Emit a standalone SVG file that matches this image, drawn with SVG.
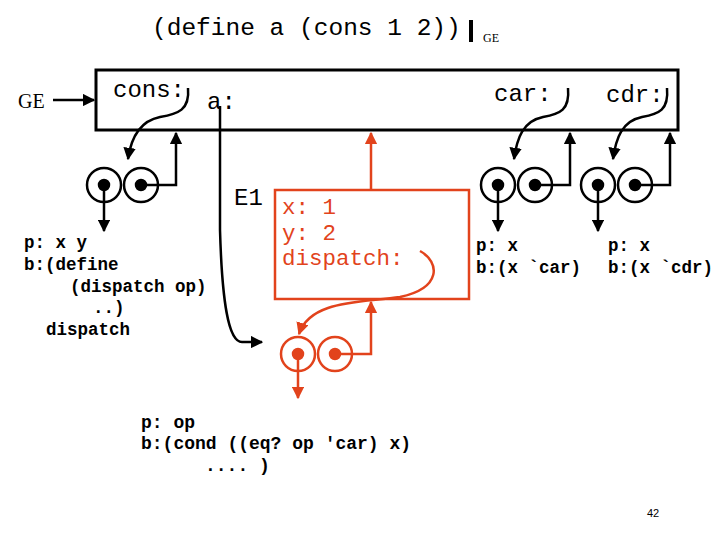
<svg xmlns="http://www.w3.org/2000/svg" width="720" height="540" viewBox="0 0 720 540">
<style>
.mono{font-family:"Liberation Mono","Courier New",monospace}
.big{font-size:24px}
.rbig{font-size:22.5px}
.code{font-size:17.5px;font-weight:bold}
.blk{fill:none;stroke:#000;stroke-width:2.5}
.red{fill:none;stroke:#E2431C;stroke-width:2.5}
.rt{fill:#E2431C}
</style>
<defs>
<marker id="ab" viewBox="0 0 10 10" refX="9" refY="5" markerWidth="5" markerHeight="5" orient="auto" markerUnits="strokeWidth"><path d="M0,0 L10,5 L0,10 z" fill="#000"/></marker>
<marker id="ar" viewBox="0 0 10 10" refX="9" refY="5" markerWidth="5" markerHeight="5" orient="auto" markerUnits="strokeWidth"><path d="M0,0 L10,5 L0,10 z" fill="#E2431C"/></marker>
</defs>
<text class="mono" font-size="24.5" x="152" y="35">(define a (cons 1 2))</text>
<line x1="471" y1="20" x2="471" y2="42" stroke="#000" stroke-width="4"/>
<text x="483" y="42" font-family="Liberation Serif,serif" font-size="12">GE</text>

<g id="ge-label">
<text x="18" y="108" font-family="Liberation Serif,serif" font-size="20">GE</text>
</g>
<g id="global-env">
<rect x="96" y="70" width="582" height="60" fill="none" stroke="#000" stroke-width="3"/>
<text class="mono big" x="113" y="97">cons:</text>
<text class="mono big" x="207" y="109">a:</text>
<text class="mono big" x="494" y="101">car:</text>
<text class="mono big" x="606" y="102">cdr:</text>
</g>
<g id="pair-cons" class="blk">
<circle cx="104" cy="185" r="17"/><circle cx="141" cy="185" r="17"/>
<circle cx="104" cy="185" r="5" fill="#000"/><circle cx="141" cy="185" r="5" fill="#000"/>
</g>
<g id="pair-car" class="blk">
<circle cx="498" cy="185" r="17"/><circle cx="535" cy="185" r="17"/>
<circle cx="498" cy="185" r="5" fill="#000"/><circle cx="535" cy="185" r="5" fill="#000"/>
</g>
<g id="pair-cdr" class="blk">
<circle cx="598" cy="185" r="17"/><circle cx="635" cy="185" r="17"/>
<circle cx="598" cy="185" r="5" fill="#000"/><circle cx="635" cy="185" r="5" fill="#000"/>
</g>
<g id="text-cons" class="mono code">
<text x="24" y="248">p: x y</text>
<text x="24" y="270">b:(define</text>
<text x="70" y="292">(dispatch op)</text>
<text x="93" y="313">..)</text>
<text x="46" y="335">dispatch</text>
</g>
<g id="text-car" class="mono code">
<text x="476" y="251">p: x</text>
<text x="476" y="273">b:(x `car)</text>
</g>
<g id="text-cdr" class="mono code">
<text x="608" y="251">p: x</text>
<text x="608" y="273">b:(x `cdr)</text>
</g>
<g id="e1">
<text class="mono big" x="234" y="205">E1</text>
<rect x="275" y="190" width="194" height="109" class="red"/>
<text class="mono rbig rt" x="282" y="214">x: 1</text>
<text class="mono rbig rt" x="282" y="240">y: 2</text>
<text class="mono rbig rt" x="282" y="265">dispatch:</text>
</g>
<g id="pair-dispatch" class="red">
<circle cx="298" cy="354" r="17"/><circle cx="335" cy="354" r="17"/>
<circle cx="298" cy="354" r="5" fill="#E2431C"/><circle cx="335" cy="354" r="5" fill="#E2431C"/>
</g>
<g id="text-dispatch" class="mono" font-size="18" font-weight="bold">
<text x="141" y="428">p: op</text>
<text x="141" y="449">b:(cond ((eq? op 'car) x)</text>
<text x="205" y="471">.... )</text>
</g>
<text x="647" y="517" font-family="Liberation Sans,sans-serif" font-size="11">42</text>

<g id="connectors">
<line x1="53" y1="100" x2="94" y2="100" class="blk" stroke-width="3" marker-end="url(#ab)"/>
<path d="M188,88 C190,110 178,114 160,117 C140,121 131,138 128,159" class="blk" marker-end="url(#ab)"/>
<path d="M141,185 H176 V133" class="blk" marker-end="url(#ab)"/>
<line x1="104" y1="185" x2="104" y2="231" class="blk" marker-end="url(#ab)"/>
<path d="M568,88 C570,110 560,114 543,117 C523,121 517,138 514,159" class="blk" marker-end="url(#ab)"/>
<path d="M535,185 H570 V133" class="blk" marker-end="url(#ab)"/>
<line x1="498" y1="185" x2="498" y2="231" class="blk" marker-end="url(#ab)"/>
<path d="M667,88 C669,110 659,114 642,117 C622,121 616,138 613,159" class="blk" marker-end="url(#ab)"/>
<path d="M635,185 H670 V133" class="blk" marker-end="url(#ab)"/>
<line x1="598" y1="185" x2="598" y2="231" class="blk" marker-end="url(#ab)"/>
<path d="M220,106 V230 C222,300 228,342 242,342 H262" class="blk" marker-end="url(#ab)"/>
<line x1="371" y1="190" x2="371" y2="133" class="red" marker-end="url(#ar)"/>
<path d="M420,251 C440,262 442,288 400,297 C360,303 310,300 299,334" class="red" marker-end="url(#ar)"/>
<path d="M335,354 H371 V302" class="red" marker-end="url(#ar)"/>
<line x1="298" y1="354" x2="298" y2="398" class="red" marker-end="url(#ar)"/>
</g>
</svg>
